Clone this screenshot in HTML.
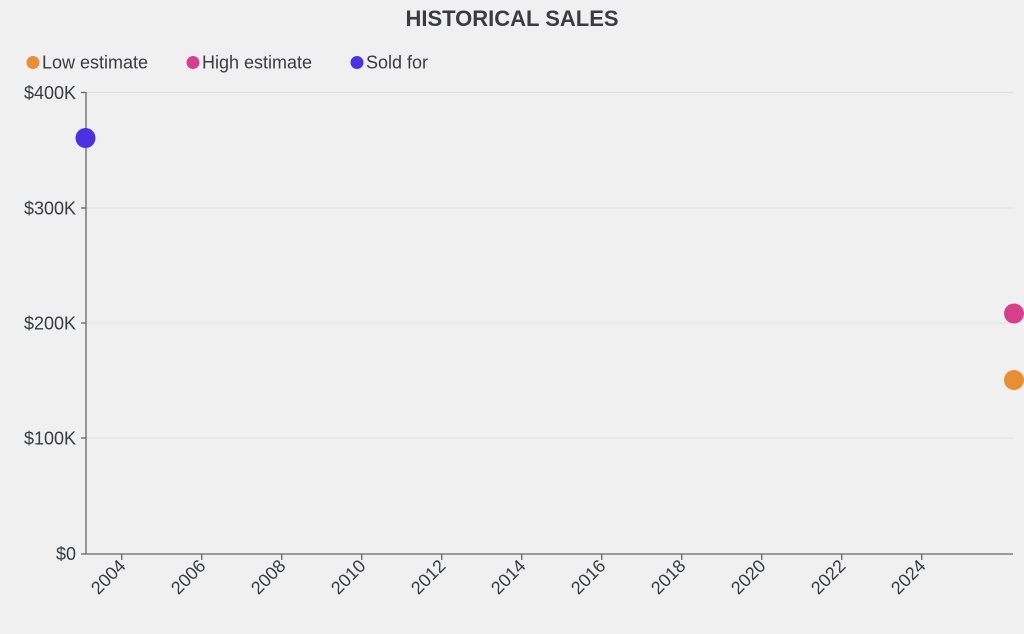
<!DOCTYPE html>
<html><head><meta charset="utf-8"><style>
html,body{margin:0;padding:0;background:#f0f0f0;}
svg{display:block;font-family:"Liberation Sans",sans-serif;}
</style></head><body>
<svg width="1024" height="634" viewBox="0 0 1024 634">
<rect width="1024" height="634" fill="#f0f0f0"/>
<text x="512" y="26" text-anchor="middle" font-size="22" font-weight="bold" fill="#3a3d40">HISTORICAL SALES</text>
<g font-size="18" fill="#3a3d40">
<circle cx="33" cy="62.5" r="6.5" fill="#e88f35"/><text x="42" y="68.5">Low estimate</text>
<circle cx="193" cy="62.5" r="6.5" fill="#d63f8c"/><text x="202" y="68.5">High estimate</text>
<circle cx="357" cy="62.5" r="6.5" fill="#4a32e0"/><text x="366" y="68.5">Sold for</text>
</g>
<g stroke="#e0e0e0" stroke-width="1">
<line x1="86" y1="92.5" x2="1013" y2="92.5"/>
<line x1="86" y1="208" x2="1013" y2="208"/>
<line x1="86" y1="323" x2="1013" y2="323"/>
<line x1="86" y1="438" x2="1013" y2="438"/>
</g>
<g stroke="#666" stroke-width="1.3">
<line x1="86" y1="92" x2="86" y2="554"/>
<line x1="86" y1="554" x2="1013" y2="554"/>
<line x1="81" y1="92.5" x2="86" y2="92.5"/>
<line x1="81" y1="208" x2="86" y2="208"/>
<line x1="81" y1="323" x2="86" y2="323"/>
<line x1="81" y1="438" x2="86" y2="438"/>
<line x1="81" y1="554" x2="86" y2="554"/>
</g>
<g font-size="18" fill="#3a3d40" text-anchor="end">
<text x="76" y="99">$400K</text>
<text x="76" y="214.5">$300K</text>
<text x="76" y="329.5">$200K</text>
<text x="76" y="444.5">$100K</text>
<text x="76" y="560">$0</text>
</g>
<g font-size="18" fill="#3a3d40" text-anchor="end" stroke="#666" stroke-width="1.3">
<g transform="translate(121.7,554)"><line y2="6"/><text stroke="none" transform="translate(5,13) rotate(-45)">2004</text></g>
<g transform="translate(201.7,554)"><line y2="6"/><text stroke="none" transform="translate(5,13) rotate(-45)">2006</text></g>
<g transform="translate(281.7,554)"><line y2="6"/><text stroke="none" transform="translate(5,13) rotate(-45)">2008</text></g>
<g transform="translate(361.7,554)"><line y2="6"/><text stroke="none" transform="translate(5,13) rotate(-45)">2010</text></g>
<g transform="translate(441.7,554)"><line y2="6"/><text stroke="none" transform="translate(5,13) rotate(-45)">2012</text></g>
<g transform="translate(521.7,554)"><line y2="6"/><text stroke="none" transform="translate(5,13) rotate(-45)">2014</text></g>
<g transform="translate(601.7,554)"><line y2="6"/><text stroke="none" transform="translate(5,13) rotate(-45)">2016</text></g>
<g transform="translate(681.7,554)"><line y2="6"/><text stroke="none" transform="translate(5,13) rotate(-45)">2018</text></g>
<g transform="translate(761.7,554)"><line y2="6"/><text stroke="none" transform="translate(5,13) rotate(-45)">2020</text></g>
<g transform="translate(841.7,554)"><line y2="6"/><text stroke="none" transform="translate(5,13) rotate(-45)">2022</text></g>
<g transform="translate(921.7,554)"><line y2="6"/><text stroke="none" transform="translate(5,13) rotate(-45)">2024</text></g>
</g>
<circle cx="85.5" cy="138" r="10" fill="#4a32e0"/>
<circle cx="1014" cy="313.5" r="10" fill="#d63f8c"/>
<circle cx="1014" cy="380" r="10" fill="#e88f35"/>
</svg>
</body></html>
